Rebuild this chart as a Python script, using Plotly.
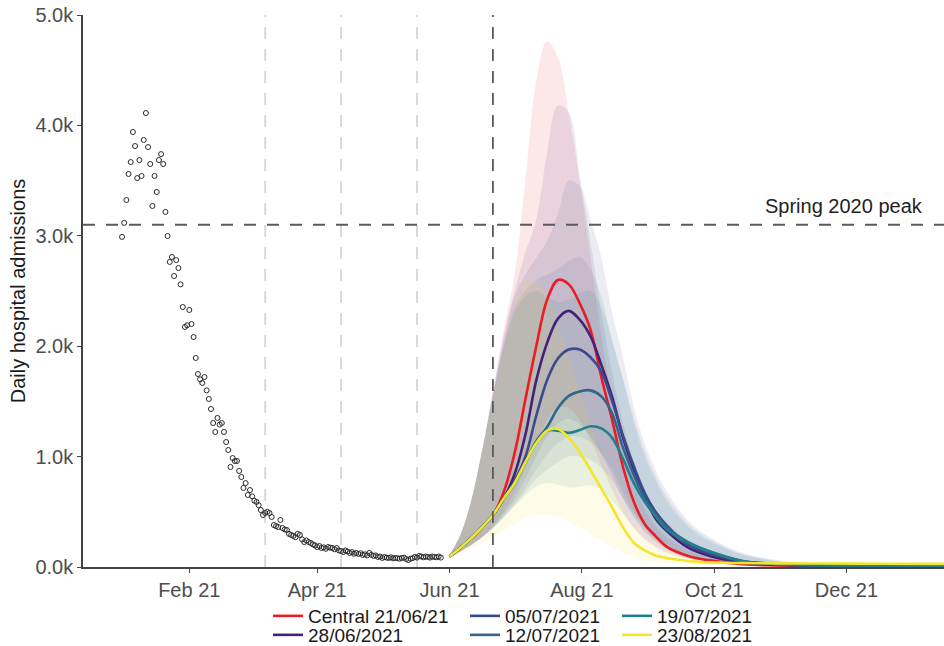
import pandas as pd
import plotly.graph_objects as go

# ---------------- observed daily admissions (1 Jan 2021 onwards) ----------------
obs_start = "2021-01-01"
observed = [2990, 3117, 3324, 3560, 3668, 3940, 3813, 3523, 3686, 3542, 3868, 4112, 3804, 3650,
            3270, 3542, 3397, 3686, 3740, 3650, 3216, 2998, 2763, 2808, 2636, 2780, 2708,
            2560, 2355, 2174, 2190, 2328, 2201, 2083, 1893, 1748, 1700, 1667, 1721, 1600, 1522,
            1431, 1304, 1223, 1350, 1290, 1304, 1223, 1132, 1060, 906, 987, 960,
            960, 870, 815, 716, 760, 652, 697, 640, 600, 589, 560, 516, 471, 489, 500, 489, 453,
            380, 370, 362, 426, 353, 340, 335, 300, 290, 281, 270, 300, 290, 250, 226, 240, 226,
            217, 205, 195, 181, 190, 172, 178, 165, 181, 175, 172, 160, 172, 150, 145, 136, 150,
            140, 127, 135, 120, 127, 118, 125, 109, 115, 105, 127, 110, 100, 105, 91, 95, 82, 90,
            85, 82, 88, 78, 82, 80, 75, 82, 85, 72, 63, 75, 80, 91, 85, 100, 95, 88, 95, 91, 85,
            95, 91, 88, 95, 85]

# ---------------- projections ----------------
proj_dates = ["2021-06-01", "2021-06-06", "2021-06-11", "2021-06-16", "2021-06-21", "2021-06-26",
              "2021-07-01", "2021-07-06", "2021-07-11", "2021-07-16", "2021-07-21", "2021-07-26",
              "2021-07-31", "2021-08-05", "2021-08-10", "2021-08-15", "2021-08-20", "2021-08-25",
              "2021-08-30", "2021-09-04", "2021-09-09", "2021-09-19", "2021-09-29", "2021-10-14",
              "2021-10-29", "2021-11-18", "2021-12-18", "2022-01-15"]

central_mid = [95, 175, 260, 360, 470, 680, 1030, 1520, 2000, 2420, 2600, 2560, 2390, 2150, 1720, 1330,
               906, 590, 390, 280, 185, 100, 60, 25, 15, 10, 8, 6]
central_lo = [80, 140, 200, 270, 370, 500, 680, 900, 1130, 1330, 1450, 1440, 1330, 1150, 920, 700,
              500, 350, 250, 180, 130, 75, 45, 22, 12, 8, 6, 5]
central_hi = [110, 290, 600, 1050, 1600, 2150, 2650, 3500, 4400, 4760, 4620, 4100, 3500, 2800, 2100,
              1500, 1050, 750, 520, 370, 270, 150, 90, 42, 22, 12, 8, 6]

s2806_mid = [95, 175, 260, 360, 470, 620, 840, 1200, 1690, 2030, 2250, 2320, 2240, 2090, 1830, 1540,
             1170, 880, 640, 440, 330, 175, 100, 40, 20, 12, 9, 7]
s2806_lo = [80, 140, 200, 270, 360, 480, 620, 800, 1000, 1180, 1300, 1340, 1290, 1180, 1020, 830,
            620, 450, 320, 230, 165, 95, 55, 27, 15, 9, 6, 5]
s2806_hi = [110, 290, 600, 1050, 1580, 2100, 2500, 2850, 3150, 3750, 4180, 4120, 3550, 2950, 2300,
            1750, 1300, 950, 700, 520, 400, 230, 140, 65, 32, 15, 9, 7]

s0507_mid = [95, 175, 260, 360, 470, 620, 780, 1000, 1370, 1694, 1890, 1970, 1970, 1900, 1770, 1500,
             1190, 912, 670, 500, 380, 200, 120, 50, 25, 14, 10, 8]
s0507_lo = [80, 140, 200, 270, 350, 460, 580, 720, 880, 1020, 1120, 1180, 1180, 1130, 1030, 880,
            680, 500, 360, 260, 190, 105, 62, 30, 16, 9, 6, 5]
s0507_hi = [110, 290, 600, 1050, 1560, 2050, 2450, 2650, 2800, 2950, 3200, 3500, 3450, 3150, 2800,
            2300, 1900, 1450, 1120, 880, 690, 420, 270, 130, 65, 28, 12, 8]

s1207_mid = [95, 175, 260, 360, 470, 620, 760, 950, 1140, 1268, 1440, 1550, 1590, 1600, 1545, 1390,
             1080, 830, 620, 480, 362, 225, 140, 55, 28, 15, 10, 8]
s1207_lo = [80, 140, 200, 270, 350, 450, 560, 680, 800, 880, 950, 1000, 1000, 970, 900, 780,
            620, 470, 340, 250, 180, 100, 60, 28, 15, 9, 6, 5]
s1207_hi = [110, 290, 600, 1050, 1550, 2000, 2350, 2500, 2600, 2650, 2700, 2770, 2810, 2700, 2450,
            2050, 1700, 1350, 1050, 820, 640, 390, 250, 120, 60, 27, 12, 8]

s1907_mid = [95, 175, 260, 360, 470, 620, 760, 950, 1123, 1235, 1235, 1215, 1240, 1275, 1255, 1170,
             980, 760, 590, 460, 345, 220, 140, 55, 28, 15, 10, 8]
s1907_lo = [80, 140, 200, 270, 350, 450, 550, 650, 730, 760, 745, 720, 730, 740, 700, 600,
            480, 360, 260, 190, 140, 80, 48, 24, 13, 8, 6, 5]
s1907_hi = [110, 290, 600, 1050, 1550, 2000, 2300, 2450, 2500, 2450, 2400, 2420, 2480, 2500, 2350,
            2050, 1700, 1300, 1000, 780, 600, 360, 230, 110, 55, 25, 11, 7]

s2308_mid = [95, 175, 260, 360, 470, 620, 760, 950, 1123, 1235, 1250, 1170, 1040, 880, 710, 540,
             360, 220, 150, 105, 82, 55, 42, 36, 33, 32, 30, 28]
s2308_lo = [80, 120, 165, 215, 270, 330, 390, 440, 470, 470, 450, 410, 360, 300, 240, 180,
            130, 90, 62, 45, 33, 20, 14, 9, 7, 5, 4, 3]
s2308_hi = [110, 290, 600, 1050, 1500, 1950, 2350, 2600, 2580, 2450, 2200, 1900, 1600, 1300, 1000,
            760, 540, 380, 270, 200, 150, 95, 65, 45, 38, 34, 31, 29]

scenario_names = ["Central 21/06/21", "28/06/2021", "05/07/2021", "12/07/2021", "19/07/2021", "23/08/2021"]
scenario_colors = ["#EC1C24", "#45217A", "#3C4A8C", "#33658D", "#22808C", "#F2E52C"]
scenario_mid = [central_mid, s2806_mid, s0507_mid, s1207_mid, s1907_mid, s2308_mid]
scenario_lo = [central_lo, s2806_lo, s0507_lo, s1207_lo, s1907_lo, s2308_lo]
scenario_hi = [central_hi, s2806_hi, s0507_hi, s1207_hi, s1907_hi, s2308_hi]
legend_ids = ["legend", "legend4", "legend2", "legend5", "legend3", "legend6"]

roadmap_steps = ["2021-03-08", "2021-04-12", "2021-05-17"]
step4_date = "2021-06-21"
spring_peak = 3100

y_tickvals = [0, 1000, 2000, 3000, 4000, 5000]
y_ticktext = ["0.0k", "1.0k", "2.0k", "3.0k", "4.0k", "5.0k"]
x_tickvals = ["2021-02-01", "2021-04-01", "2021-06-01", "2021-08-01", "2021-10-01", "2021-12-01"]
x_ticktext = ["Feb 21", "Apr 21", "Jun 21", "Aug 21", "Oct 21", "Dec 21"]


def rgba(hexcol, a):
    h = hexcol.lstrip("#")
    r, g, b = int(h[0:2], 16), int(h[2:4], 16), int(h[4:6], 16)
    return f"rgba({r},{g},{b},{a})"


fig = go.Figure()

# ribbons
for name, col, lo, hi in zip(scenario_names, scenario_colors, scenario_lo, scenario_hi):
    fig.add_trace(go.Scatter(x=proj_dates, y=lo, mode="lines", line=dict(width=0, shape="spline"),
                             showlegend=False, hoverinfo="skip"))
    fig.add_trace(go.Scatter(x=proj_dates, y=hi, mode="lines", line=dict(width=0, shape="spline"),
                             fill="tonexty", fillcolor=rgba(col, 0.10), showlegend=False,
                             hoverinfo="skip"))

# observed data
obs_dates = pd.date_range(obs_start, periods=len(observed), freq="D")
fig.add_trace(go.Scatter(x=obs_dates, y=observed, mode="markers", showlegend=False,
                         marker=dict(symbol="circle-open", size=5, color="#2A2A2A",
                                     line=dict(width=1, color="#2A2A2A"))))

# central lines
for name, col, mid, lg in zip(scenario_names, scenario_colors, scenario_mid, legend_ids):
    fig.add_trace(go.Scatter(x=proj_dates, y=mid, mode="lines", name=name, legend=lg,
                             line=dict(color=col, width=2.6, shape="spline")))

shapes = []
for d in roadmap_steps:
    shapes.append(dict(type="line", xref="x", yref="paper", x0=d, x1=d, y0=0, y1=1,
                       line=dict(color="#D6D6D6", width=1.8, dash="12px,10px"), layer="below"))
shapes.append(dict(type="line", xref="x", yref="paper", x0=step4_date, x1=step4_date, y0=0, y1=1,
                   line=dict(color="#5A5A5A", width=1.8, dash="12px,10px")))
shapes.append(dict(type="line", xref="paper", yref="y", x0=0, x1=1, y0=spring_peak, y1=spring_peak,
                   line=dict(color="#5A5A5A", width=1.8, dash="12px,11px")))

font_family = "Liberation Sans, Arial, sans-serif"
FW, FH = 944, 646
ML, MT, PW, PH = 83, 15, 861, 552
legend_pos = {
    "legend": (268, 616), "legend2": (465, 616), "legend3": (617, 616),
    "legend4": (268, 635), "legend5": (465, 635), "legend6": (617, 635),
}
legend_layout = {}
for lid, (lx, ly) in legend_pos.items():
    legend_layout[lid] = dict(x=(lx - ML) / PW, y=(MT + PH - ly) / PH,
                              xref="paper", yref="paper",
                              xanchor="left", yanchor="middle", bgcolor="rgba(0,0,0,0)",
                              orientation="v",
                              font=dict(family=font_family, size=19, color="#1A1A1A"),
                              itemwidth=30)

fig.update_layout(
    width=FW, height=FH,
    margin=dict(l=ML, r=FW - ML - PW, t=MT, b=FH - MT - PH, autoexpand=False),
    paper_bgcolor="white", plot_bgcolor="white",
    font=dict(family=font_family, size=20, color="#4D4D4D"),
    shapes=shapes,
    annotations=[dict(text="Spring 2020 peak", xref="paper", yref="y", x=0.978, y=spring_peak,
                      xanchor="right", yanchor="bottom", yshift=6, showarrow=False,
                      font=dict(family=font_family, size=20, color="#222222"))],
    xaxis=dict(range=["2020-12-14", "2022-01-15"], tickvals=x_tickvals, ticktext=x_ticktext,
               showgrid=False, zeroline=False, showline=True, linecolor="#444444", linewidth=1.5,
               ticks="outside", ticklen=4, tickcolor="#444444", ticklabeloverflow="allow",
               tickfont=dict(size=20, color="#4D4D4D")),
    yaxis=dict(range=[0, 5000], tickvals=y_tickvals, ticktext=y_ticktext,
               showgrid=False, zeroline=False, showline=True, linecolor="#444444", linewidth=1.5,
               ticks="outside", ticklen=4, tickcolor="#444444", ticklabeloverflow="allow",
               tickfont=dict(size=20, color="#4D4D4D"),
               title=dict(text="Daily hospital admissions", standoff=4,
                          font=dict(size=20, color="#1A1A1A"))),
    **legend_layout,
)

# remove the default page margin so the figure sits at the window's top-left corner
fig.write_html("out.html", config={"displayModeBar": False},
               post_script="document.body.style.margin='0px';")
